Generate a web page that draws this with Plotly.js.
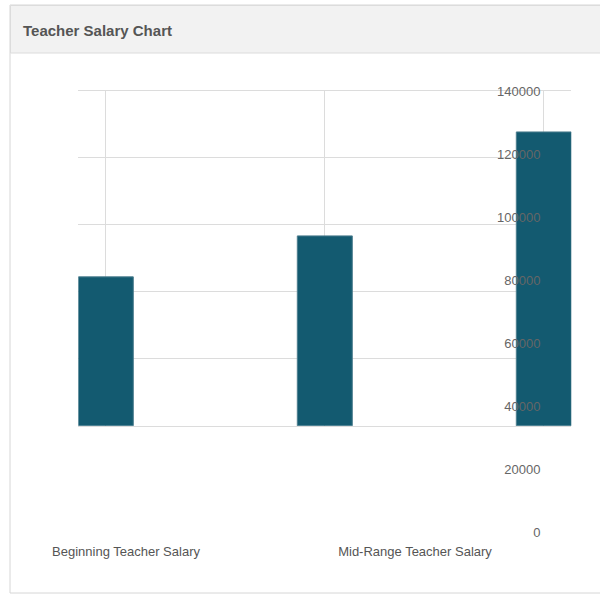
<!DOCTYPE html>
<html>
<head>
<meta charset="utf-8">
<script src="https://cdn.plot.ly/plotly-3.0.1.min.js"></script>
<style>
  html, body { margin: 0; padding: 0; background: #fff; }
  #chart { width: 600px; height: 595px; }
</style>
</head>
<body>
<div id="chart"></div>
<script>
// data
const categories = ['Beginning Teacher Salary', 'Mid-Range Teacher Salary', 'Maximum Teacher Salary'];
const salaries = [81000, 94000, 127000];
const salaryTicks = [0, 20000, 40000, 60000, 80000, 100000, 120000, 140000];
const chartTitle = 'Teacher Salary Chart';

// page geometry (px)
const W = 600, H = 595;
const px = x => x / W;
const py = y => 1 - y / H;

const plotLeft = 78.3, plotRight = 571.3;
const gridTop = 91, gridBottom = 425.7;   // where the bars & grid live
const labelZero = 532;                     // where the tick "0" sits
const labelLeft = 126, labelStep = 289;    // category label layout

const yMax = salaryTicks[salaryTicks.length - 1];
const gridMin = yMax * (1 - (gridBottom - gridTop) / (labelZero - gridTop));
const barStep = 219;
const barWidth = (plotRight - plotLeft) / barStep - (categories.length - 1);

const bars = {
    type: 'bar',
    x: categories,
    y: salaries,
    xaxis: 'x',
    yaxis: 'y',
    width: barWidth,
    marker: { color: '#135a70', line: { color: '#4d7d8e', width: 1 } },
    hoverinfo: 'skip'
};

// invisible helper so the label axes have categories / values
const labelTrace = {
    type: 'scatter',
    mode: 'markers',
    x: categories,
    y: salaries,
    xaxis: 'x2',
    yaxis: 'y2',
    marker: { opacity: 0 },
    hoverinfo: 'skip'
};

const layout = {
    width: W,
    height: H,
    margin: { l: 0, r: 0, t: 0, b: 0 },
    paper_bgcolor: '#fff',
    plot_bgcolor: 'rgba(0,0,0,0)',
    showlegend: false,
    hovermode: false,
    font: { family: 'Liberation Sans, Arial, sans-serif', size: 13, color: '#666' },
    xaxis: {
        domain: [px(plotLeft), px(plotRight)],
        range: [-barWidth / 2, categories.length - 1 + barWidth / 2],
        anchor: 'y',
        showgrid: true,
        gridcolor: '#dcdcdc',
        showticklabels: false,
        ticks: '',
        showline: true,
        mirror: true,
        linecolor: '#dcdcdc',
        zeroline: false
    },
    yaxis: {
        domain: [py(gridBottom), py(gridTop)],
        range: [gridMin, yMax],
        tick0: gridMin,
        dtick: (yMax - gridMin) / 5,
        anchor: 'x',
        showgrid: true,
        gridcolor: '#dcdcdc',
        showticklabels: false,
        ticks: '',
        zeroline: false
    },
    xaxis2: {
        domain: [px(plotLeft), px(plotRight)],
        range: [(plotLeft - labelLeft) / labelStep, (plotRight - labelLeft) / labelStep],
        anchor: 'y2',
        showgrid: false,
        zeroline: false,
        showline: false,
        ticks: '',
        ticklabelstandoff: 10,
        tickfont: { size: 13, color: '#555' }
    },
    yaxis2: {
        domain: [py(labelZero), py(gridTop)],
        range: [0, yMax],
        tickvals: salaryTicks,
        tickformat: 'd',
        anchor: 'free',
        position: px(540.5),
        side: 'left',
        showgrid: false,
        zeroline: false,
        showline: false,
        ticks: '',
        tickfont: { size: 13, color: '#666' }
    },
    shapes: [
        // panel
        {
            type: 'rect', xref: 'paper', yref: 'paper', layer: 'below',
            x0: px(10), x1: px(612), y0: py(593), y1: py(5),
            line: { color: '#d6d6d6', width: 1 }, fillcolor: '#fff'
        },
        // panel heading
        {
            type: 'rect', xref: 'paper', yref: 'paper', layer: 'below',
            x0: px(10.5), x1: px(612), y0: py(53), y1: py(5.5),
            line: { color: '#dcdcdc', width: 1 }, fillcolor: '#f2f2f2'
        }
    ],
    annotations: [
        {
            text: '<b>' + chartTitle + '</b>',
            xref: 'paper', yref: 'paper',
            x: px(21), y: py(30),
            xanchor: 'left', yanchor: 'middle',
            showarrow: false,
            font: { size: 15, color: '#555' }
        }
    ]
};

Plotly.newPlot('chart', [bars, labelTrace], layout, { staticPlot: true, displayModeBar: false });
</script>
</body>
</html>
